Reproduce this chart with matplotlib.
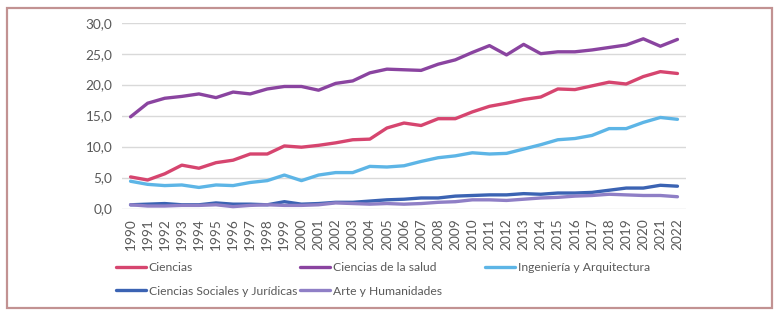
import matplotlib
matplotlib.use("Agg")
import matplotlib.pyplot as plt
from matplotlib.patches import Rectangle
from matplotlib.ticker import FuncFormatter

years = list(range(1990, 2023))

ciencias = [5.1, 4.6, 5.6, 7.0, 6.5, 7.4, 7.8, 8.8, 8.8, 10.1, 9.9, 10.2, 10.6, 11.1, 11.2,
            13.0, 13.8, 13.4, 14.5, 14.5, 15.6, 16.5, 17.0, 17.6, 18.0, 19.3, 19.2, 19.8,
            20.4, 20.1, 21.3, 22.1, 21.8]
salud = [14.8, 17.0, 17.8, 18.1, 18.5, 17.9, 18.8, 18.5, 19.3, 19.7, 19.7, 19.1, 20.2, 20.6,
         21.9, 22.5, 22.4, 22.3, 23.3, 24.0, 25.2, 26.3, 24.8, 26.5, 25.0, 25.3, 25.3, 25.6,
         26.0, 26.4, 27.4, 26.2, 27.3]
ingenieria = [4.4, 3.9, 3.7, 3.8, 3.4, 3.8, 3.7, 4.2, 4.5, 5.4, 4.5, 5.4, 5.8, 5.8, 6.8, 6.7,
              6.9, 7.6, 8.2, 8.5, 9.0, 8.8, 8.9, 9.6, 10.3, 11.1, 11.3, 11.8, 12.9, 12.9, 13.9,
              14.7, 14.4]
sociales = [0.6, 0.7, 0.8, 0.6, 0.6, 0.9, 0.7, 0.7, 0.6, 1.1, 0.7, 0.8, 1.0, 1.0, 1.2, 1.4,
            1.5, 1.7, 1.7, 2.0, 2.1, 2.2, 2.2, 2.4, 2.3, 2.5, 2.5, 2.6, 2.95, 3.3, 3.3, 3.75, 3.6]
arte = [0.6, 0.4, 0.4, 0.5, 0.5, 0.6, 0.3, 0.5, 0.6, 0.5, 0.5, 0.6, 0.9, 0.8, 0.7, 0.8, 0.7,
        0.8, 1.0, 1.1, 1.4, 1.4, 1.3, 1.5, 1.7, 1.8, 2.0, 2.1, 2.3, 2.2, 2.1, 2.1, 1.9]

series = [
    ("Ciencias", ciencias, "#d6456f"),
    ("Ciencias de la salud", salud, "#8a44a0"),
    ("Ingeniería y Arquitectura", ingenieria, "#5db5e6"),
    ("Ciencias Sociales y Jurídicas", sociales, "#3b63b3"),
    ("Arte y Humanidades", arte, "#8f7fc6"),
]

plt.rcParams['font.family'] = ['Lato', 'DejaVu Sans']
txt = "#595959"
fs = 9.8
lfs = 8.7

W, H = 778, 314
fig = plt.figure(figsize=(W / 100, H / 100), dpi=100)
ax = fig.add_axes([122 / W, 1 - 208.5 / H, 564 / W, 185.8 / H])

lines = []
for name, vals, col in series:
    ln, = ax.plot(years, vals, color=col, lw=2.4, label=name, solid_capstyle='round',
                  solid_joinstyle='round')
    lines.append(ln)

ax.set_xlim(1989.5, 2022.5)
ax.set_ylim(0, 30)
ax.set_yticks([0, 5, 10, 15, 20, 25, 30])
ax.yaxis.set_major_formatter(FuncFormatter(lambda v, p: f"{v:.1f}".replace(".", ",")))
ax.set_xticks(years)
ax.set_xticklabels([str(y) for y in years], rotation=90)
ax.grid(axis='y', color='#d9d9d9', lw=1)
ax.set_axisbelow(True)
for s in ax.spines.values():
    s.set_visible(False)
ax.tick_params(axis='both', length=0, colors=txt, labelsize=fs)
ax.tick_params(axis='y', pad=7)
ax.tick_params(axis='x', pad=7)

# legend: three columns of equal width like the original
col_x = [116, 300, 485]
for k, x0 in enumerate(col_x):
    hs = lines[k::3]
    fig.legend(handles=hs, labels=[h.get_label() for h in hs], loc='upper left',
               bbox_to_anchor=(x0 / W, 1 - 262 / H), frameon=False, fontsize=lfs,
               handlelength=2.5, handletextpad=0.22, labelspacing=1.05,
               borderpad=0, borderaxespad=0, labelcolor=txt)

fig.patches.append(Rectangle((7 / W, 1 - 308 / H), 765 / W, 300 / H, transform=fig.transFigure,
                             fill=False, edgecolor='#c29292', lw=1.6))

fig.savefig("out.png", dpi=100)
